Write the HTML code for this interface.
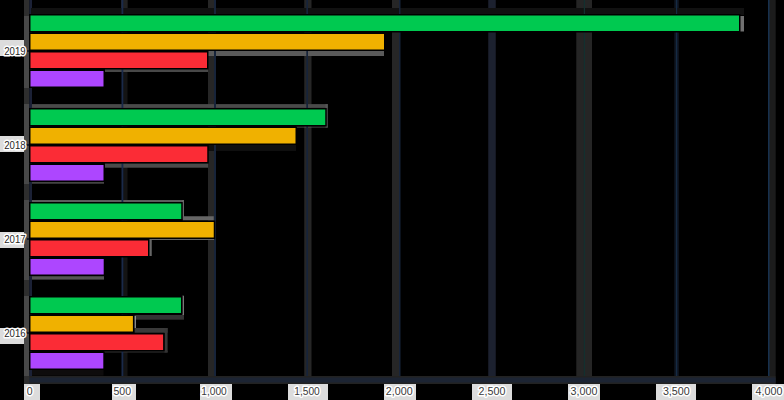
<!DOCTYPE html>
<html><head><meta charset="utf-8"><style>
html,body{margin:0;padding:0;background:#000;}
svg{display:block}
.t{fill:#3a3a3a;font-family:"Liberation Sans",sans-serif;}
.u{fill:#262626;font-family:"Liberation Sans",sans-serif;}
</style></head><body>
<svg width="784" height="400" viewBox="0 0 784 400">
<rect width="784" height="400" fill="#000"/>
<rect x="123.00" y="0.00" width="4.50" height="376.00" fill="#141414" />
<rect x="121.00" y="0.00" width="6.50" height="10.00" fill="#222" />
<rect x="208.00" y="0.00" width="6.00" height="376.00" fill="#262626" />
<rect x="304.25" y="0.00" width="7.25" height="376.00" fill="#262626" />
<rect x="392.00" y="0.00" width="7.00" height="376.00" fill="#262626" />
<rect x="488.25" y="0.00" width="7.50" height="376.00" fill="#1c212f" />
<rect x="576.30" y="0.00" width="15.70" height="376.00" fill="#252525" />
<rect x="674.30" y="0.00" width="4.50" height="376.00" fill="#0f1622" />
<rect x="768.00" y="0.00" width="7.70" height="384.00" fill="#1c1c1c" />
<rect x="24.00" y="376.00" width="751.50" height="8.00" fill="#222" />
<rect x="24.00" y="377.50" width="751.50" height="5.00" fill="#1c2433" />
<rect x="24.00" y="0.00" width="5.30" height="384.00" fill="#2e2e2e" />
<rect x="24.00" y="16.00" width="5.30" height="72.00" fill="#484848" />
<rect x="24.00" y="104.00" width="5.30" height="80.00" fill="#484848" />
<rect x="24.00" y="200.00" width="5.30" height="80.00" fill="#484848" />
<rect x="24.00" y="296.00" width="5.30" height="80.00" fill="#484848" />
<rect x="29.30" y="0.00" width="2.70" height="376.00" fill="#1b2136" />
<rect x="31.00" y="8.00" width="713.00" height="7.00" fill="#111" />
<rect x="739.50" y="16.00" width="4.50" height="15.50" fill="#707070" />
<rect x="208.00" y="51.00" width="176.00" height="5.00" fill="#5a5a5a" />
<rect x="105.00" y="69.00" width="103.00" height="3.00" fill="#484848" />
<rect x="32.00" y="104.10" width="295.75" height="3.80" fill="#4a4a4a" />
<rect x="325.50" y="104.10" width="2.25" height="23.40" fill="#555" />
<rect x="296.00" y="126.50" width="31.75" height="1.00" fill="#555" />
<rect x="207.00" y="144.50" width="89.00" height="6.50" fill="#0f0f0f" />
<rect x="105.00" y="163.20" width="103.00" height="4.50" fill="#4a4a4a" />
<rect x="32.00" y="182.00" width="72.00" height="1.75" fill="#444" />
<rect x="32.00" y="200.00" width="151.75" height="2.00" fill="#5c5c5c" />
<rect x="182.00" y="200.00" width="2.00" height="19.00" fill="#666" />
<rect x="182.50" y="216.25" width="31.25" height="4.25" fill="#666" />
<rect x="150.00" y="238.75" width="64.50" height="1.25" fill="#666" />
<rect x="149.00" y="239.00" width="2.75" height="17.00" fill="#666" />
<rect x="32.00" y="276.25" width="72.00" height="3.35" fill="#555" />
<rect x="182.30" y="295.70" width="1.70" height="19.30" fill="#777" />
<rect x="134.40" y="315.00" width="49.60" height="4.70" fill="#333" />
<rect x="134.40" y="316.00" width="1.40" height="12.30" fill="#aaa" />
<rect x="134.40" y="328.00" width="33.20" height="4.70" fill="#3a3a3a" />
<rect x="164.50" y="328.00" width="3.10" height="24.50" fill="#383838" />
<rect x="104.00" y="350.75" width="63.60" height="1.75" fill="#333" />
<rect x="32.00" y="369.60" width="71.50" height="6.00" fill="#0e0c0c" />
<rect x="121.50" y="0.00" width="1.80" height="376.00" fill="#1a2a4a" />
<rect x="214.00" y="0.00" width="2.00" height="376.00" fill="#17243a" />
<rect x="306.30" y="0.00" width="1.70" height="376.00" fill="#17243a" />
<rect x="399.00" y="0.00" width="1.50" height="376.00" fill="#17243a" />
<rect x="583.80" y="0.00" width="1.20" height="376.00" fill="#12302f" />
<rect x="676.00" y="0.00" width="1.20" height="376.00" fill="#152b44" />
<rect x="768.00" y="0.00" width="1.50" height="376.00" fill="#17304d" />
<rect x="27.00" y="50.20" width="3.00" height="1.60" fill="#0a1428" />
<rect x="27.00" y="144.20" width="3.00" height="1.60" fill="#0a1428" />
<rect x="27.00" y="238.20" width="3.00" height="1.60" fill="#0a1428" />
<rect x="27.00" y="332.20" width="3.00" height="1.60" fill="#0a1428" />
<rect x="29.00" y="14.00" width="711.50" height="18.50" fill="#000" />
<rect x="30.50" y="15.50" width="708.50" height="15.50" fill="#00c950" />
<rect x="29.00" y="32.50" width="356.50" height="18.50" fill="#000" />
<rect x="30.50" y="34.00" width="353.50" height="15.50" fill="#f0b100" />
<rect x="29.00" y="51.00" width="179.50" height="18.50" fill="#000" />
<rect x="30.50" y="52.50" width="176.50" height="15.50" fill="#fb2c36" />
<rect x="29.00" y="69.50" width="76.00" height="18.50" fill="#000" />
<rect x="30.50" y="71.00" width="73.00" height="15.50" fill="#ad46ff" />
<rect x="29.00" y="108.00" width="297.75" height="18.50" fill="#000" />
<rect x="30.50" y="109.50" width="294.75" height="15.50" fill="#00c950" />
<rect x="29.00" y="126.50" width="268.00" height="18.50" fill="#000" />
<rect x="30.50" y="128.00" width="265.00" height="15.50" fill="#f0b100" />
<rect x="29.00" y="145.00" width="179.75" height="18.50" fill="#000" />
<rect x="30.50" y="146.50" width="176.75" height="15.50" fill="#fb2c36" />
<rect x="29.00" y="163.50" width="76.00" height="18.50" fill="#000" />
<rect x="30.50" y="165.00" width="73.00" height="15.50" fill="#ad46ff" />
<rect x="29.00" y="202.00" width="153.75" height="18.50" fill="#000" />
<rect x="30.50" y="203.50" width="150.75" height="15.50" fill="#00c950" />
<rect x="29.00" y="220.50" width="186.25" height="18.50" fill="#000" />
<rect x="30.50" y="222.00" width="183.25" height="15.50" fill="#f0b100" />
<rect x="29.00" y="239.00" width="120.50" height="18.50" fill="#000" />
<rect x="30.50" y="240.50" width="117.50" height="15.50" fill="#fb2c36" />
<rect x="29.00" y="257.50" width="76.20" height="18.50" fill="#000" />
<rect x="30.50" y="259.00" width="73.20" height="15.50" fill="#ad46ff" />
<rect x="29.00" y="296.00" width="153.50" height="18.50" fill="#000" />
<rect x="30.50" y="297.50" width="150.50" height="15.50" fill="#00c950" />
<rect x="29.00" y="314.50" width="105.40" height="18.50" fill="#000" />
<rect x="30.50" y="316.00" width="102.40" height="15.50" fill="#f0b100" />
<rect x="29.00" y="333.00" width="135.60" height="18.50" fill="#000" />
<rect x="30.50" y="334.50" width="132.60" height="15.50" fill="#fb2c36" />
<rect x="29.00" y="351.50" width="75.80" height="18.50" fill="#000" />
<rect x="30.50" y="353.00" width="72.80" height="15.50" fill="#ad46ff" />
<rect x="0.00" y="40.00" width="24.00" height="16.00" fill="#dcdcdc" />
<rect x="0.00" y="136.00" width="24.00" height="16.00" fill="#dcdcdc" />
<rect x="0.00" y="232.00" width="24.00" height="16.00" fill="#dcdcdc" />
<rect x="0.00" y="328.00" width="24.00" height="16.00" fill="#dcdcdc" />
<rect x="24.00" y="384.00" width="16.00" height="16.00" fill="#dcdcdc" />
<rect x="112.00" y="384.00" width="24.00" height="16.00" fill="#dcdcdc" />
<rect x="200.00" y="384.00" width="32.00" height="16.00" fill="#dcdcdc" />
<rect x="288.00" y="384.00" width="40.00" height="16.00" fill="#dcdcdc" />
<rect x="384.00" y="384.00" width="32.00" height="16.00" fill="#dcdcdc" />
<rect x="472.00" y="384.00" width="40.00" height="16.00" fill="#dcdcdc" />
<rect x="568.00" y="384.00" width="32.00" height="16.00" fill="#dcdcdc" />
<rect x="656.00" y="384.00" width="40.00" height="16.00" fill="#dcdcdc" />
<rect x="752.00" y="384.00" width="32.00" height="16.00" fill="#dcdcdc" />
<g stroke="#fff" stroke-width="3" stroke-linejoin="round" fill="#fff" font-family="&quot;Liberation Sans&quot;,sans-serif">
<text x="4.22" y="54.8" font-size="10.8" textLength="21.4" lengthAdjust="spacingAndGlyphs">2019</text>
<text x="4.22" y="148.8" font-size="10.8" textLength="21.4" lengthAdjust="spacingAndGlyphs">2018</text>
<text x="4.22" y="242.8" font-size="10.8" textLength="21.4" lengthAdjust="spacingAndGlyphs">2017</text>
<text x="4.22" y="336.8" font-size="10.8" textLength="21.4" lengthAdjust="spacingAndGlyphs">2016</text>
<text x="26.78" y="394.6" font-size="10.5">0</text>
<text x="113.54" y="394.6" font-size="10.5">500</text>
<text x="201.26" y="394.6" font-size="10.5" textLength="25.5" lengthAdjust="spacingAndGlyphs">1,000</text>
<text x="294.26" y="394.6" font-size="10.5" textLength="25.5" lengthAdjust="spacingAndGlyphs">1,500</text>
<text x="385.8" y="394.6" font-size="10.5" textLength="26.8" lengthAdjust="spacingAndGlyphs">2,000</text>
<text x="478.6" y="394.6" font-size="10.5" textLength="26.8" lengthAdjust="spacingAndGlyphs">2,500</text>
<text x="570.6" y="394.6" font-size="10.5" textLength="26.8" lengthAdjust="spacingAndGlyphs">3,000</text>
<text x="662.9" y="394.6" font-size="10.5" textLength="26.8" lengthAdjust="spacingAndGlyphs">3,500</text>
<text x="755.6" y="394.6" font-size="10.5" textLength="26.8" lengthAdjust="spacingAndGlyphs">4,000</text>
</g>
<text class="u" x="4.22" y="54.8" font-size="10.8" textLength="21.4" lengthAdjust="spacingAndGlyphs">2019</text>
<text class="u" x="4.22" y="148.8" font-size="10.8" textLength="21.4" lengthAdjust="spacingAndGlyphs">2018</text>
<text class="u" x="4.22" y="242.8" font-size="10.8" textLength="21.4" lengthAdjust="spacingAndGlyphs">2017</text>
<text class="u" x="4.22" y="336.8" font-size="10.8" textLength="21.4" lengthAdjust="spacingAndGlyphs">2016</text>
<text class="t" x="26.78" y="394.6" font-size="10.5">0</text>
<text class="t" x="113.54" y="394.6" font-size="10.5">500</text>
<text class="t" x="201.26" y="394.6" font-size="10.5" textLength="25.5" lengthAdjust="spacingAndGlyphs">1,000</text>
<text class="t" x="294.26" y="394.6" font-size="10.5" textLength="25.5" lengthAdjust="spacingAndGlyphs">1,500</text>
<text class="t" x="385.8" y="394.6" font-size="10.5" textLength="26.8" lengthAdjust="spacingAndGlyphs">2,000</text>
<text class="t" x="478.6" y="394.6" font-size="10.5" textLength="26.8" lengthAdjust="spacingAndGlyphs">2,500</text>
<text class="t" x="570.6" y="394.6" font-size="10.5" textLength="26.8" lengthAdjust="spacingAndGlyphs">3,000</text>
<text class="t" x="662.9" y="394.6" font-size="10.5" textLength="26.8" lengthAdjust="spacingAndGlyphs">3,500</text>
<text class="t" x="755.6" y="394.6" font-size="10.5" textLength="26.8" lengthAdjust="spacingAndGlyphs">4,000</text>
</svg>
</body></html>
